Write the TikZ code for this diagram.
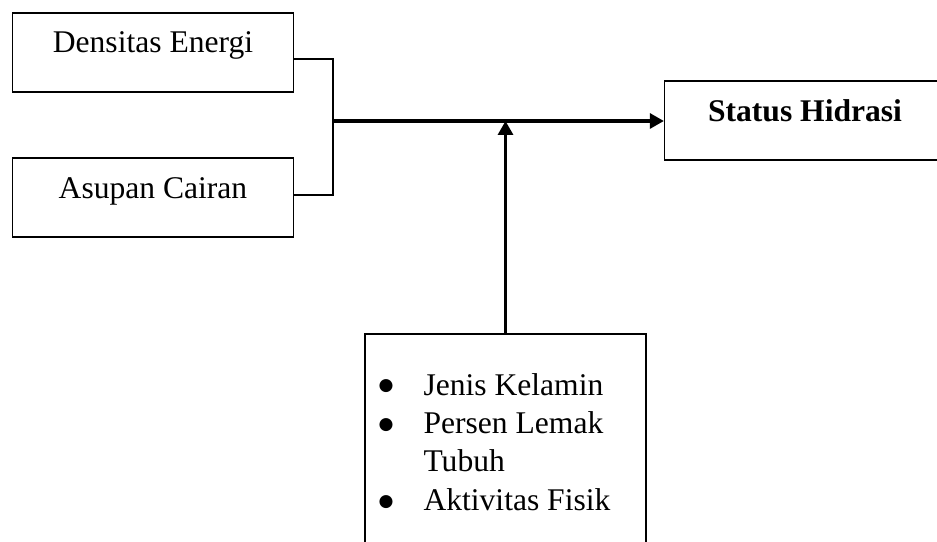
\documentclass[tikz,border=0pt]{standalone}
\usepackage{fontspec}
\setmainfont{Liberation Serif}
\newfontfamily\symfont{DejaVu Sans}
\usetikzlibrary{arrows.meta}
\newcommand{\bigbul}{\raisebox{1.6pt}{\symfont\fontsize{6.5}{7}\selectfont ●}}
\begin{document}
\begin{tikzpicture}[x=0.38pt,y=-0.38pt]

\def\px{0.38pt}
\tikzstyle{box} = [
	draw, rectangle, line width=0.5pt, inner sep=0pt,
	minimum width=281*\px, minimum height=79*\px ];
\tikzstyle{txt} = [inner sep=0pt, anchor=base, font=\fontsize{12}{14.6}\selectfont];
\tikzstyle{link} = [line width=0.8pt];
\tikzstyle{arrow} = [line width=1.15pt, -{Triangle[length=5.3pt,width=5.7pt]}];
\useasboundingbox (0,0) rectangle (937,542);
\clip (0,0) rectangle (937,542);

\node[box] (dens) at (153,52.5) {};
\node[box] (asup) at (153,197.5) {};
\node[box] (stat) at (805,120.5) {};
\node[box,minimum height=230*\px] (fak) at (505.5,449) {};

\node[txt] (densT) at (153,53) {Densitas Energi};
\node[txt] (asupT) at (153,199) {Asupan Cairan};
\node[txt] (statT) at (805,122) {\bfseries Status Hidrasi};
\node[txt,anchor=base west] (fakT) at (378,395) {%
	\begin{tabular}[t]{@{}p{17.1pt}@{}l@{}}
	\bigbul & Jenis Kelamin\\
	\bigbul & Persen Lemak\\
	        & Tubuh\\
	\bigbul & Aktivitas Fisik
	\end{tabular}};

\coordinate (jt) at (333,59);
\coordinate (jb) at (333,195);
\coordinate (jm) at (333,121);
\draw[link] (dens.east |- jt) -- (jt) -- (jb) -- (asup.east |- jb);
\draw[arrow] (jm) -- (stat.west |- jm);
\draw[arrow] (fak.north) -- (fak.north |- jm);

\end{tikzpicture}
\end{document}
